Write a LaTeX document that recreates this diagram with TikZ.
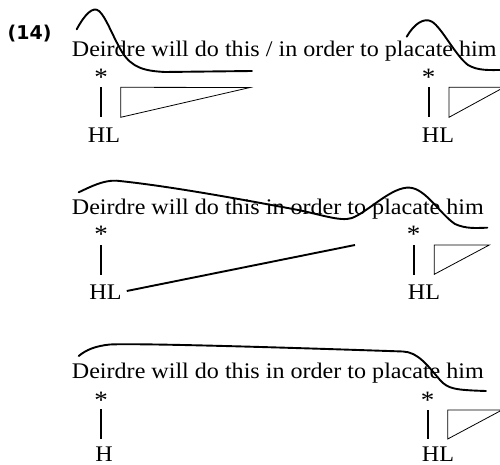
\documentclass[tikz,border=0pt]{standalone}
\usepackage{fontspec}
\setmainfont{Liberation Serif}[FakeStretch=1.08]
\newfontfamily\labfont{DejaVu Sans}
\begin{document}
\begin{tikzpicture}[x=1pt,y=-1pt,
  sent/.style={anchor=base west,inner sep=0pt,font=\fontsize{22.3}{24}\selectfont},
  tone/.style={anchor=base,inner sep=0pt,font=\fontsize{22.3}{24}\selectfont},
  ast/.style={inner sep=0pt,font=\fontsize{25}{26}\selectfont},
  contour/.style={line width=1.9pt,line cap=round},
  bar/.style={line width=2pt},
  tri/.style={line width=0.8pt,line join=miter}]
\useasboundingbox (0,0) rectangle (500,465);
\clip (0,0) rectangle (500,465);
% label
\node[anchor=base west,inner sep=0pt,font=\labfont\bfseries\fontsize{19}{21}\selectfont] (lab) at (7.5,39.5) {(14)};
% ---------- row 1
\node[sent] (t1) at (71.7,56.7) {Deirdre will do this / in order to placate him};
\node[ast] (s1a) at (101,77) {*};
\node[ast] (s1b) at (428.5,77) {*};
\node[tone] (h1a) at (104,143) {HL};
\node[tone] (h1b) at (438,143) {HL};
\draw[bar] (101,87.3) -- (101,117.3);
\draw[bar] (429,87.3) -- (429,117.3);
\draw[tri] (120.7,117.3) -- (120.7,87.3) -- (250,87.5) -- cycle;
\draw[tri] (449,117.3) -- (449,87.3) -- (504,87.3) -- cycle;
\draw[contour] (76.7,29.3) .. controls (85,14) and (93,6) .. (99,11)
  .. controls (106,17) and (112,35) .. (122,52)
  .. controls (132,68) and (145,71) .. (165,72)
  -- (252,71);
\draw[contour] (406.7,36.7) .. controls (414,24) and (424,17) .. (432,21.7)
  .. controls (442,28) and (455,55) .. (468,65)
  .. controls (478,71) and (490,70) .. (502,70);
% ---------- row 2
\node[sent] (t2) at (71.7,214) {Deirdre will do this in order to placate him};
\node[ast] (s2a) at (101,234.5) {*};
\node[ast] (s2b) at (413.5,234.5) {*};
\node[tone] (h2a) at (105.5,299.3) {HL};
\node[tone] (h2b) at (424,299.3) {HL};
\draw[bar] (101,245) -- (101,275);
\draw[bar] (414,245) -- (414,275);
\draw[tri] (434.3,274.3) -- (434.3,245) -- (489.3,245) -- cycle;
\coordinate (l2e) at (355,245);
\draw[line width=1.9pt] ([shift={(5,-1)}]h2a.east) -- (l2e);
\draw[contour] (78.7,192.3) .. controls (92,186) and (104,180) .. (116.7,180.7)
  .. controls (170,186) and (250,201) .. (293,209)
  .. controls (320,214) and (340,222) .. (352,218)
  .. controls (368,212) and (392,186) .. (410,187.7)
  .. controls (426,189) and (440,214) .. (455,224)
  .. controls (466,229) and (476,228) .. (487.3,227.7);
% ---------- row 3
\node[sent] (t3) at (71.7,378.3) {Deirdre will do this in order to placate him};
\node[ast] (s3a) at (101,400) {*};
\node[ast] (s3b) at (427.7,400) {*};
\node[tone] (h3a) at (104,461.5) {H};
\node[tone] (h3b) at (438,461.5) {HL};
\draw[bar] (101,409) -- (101,439);
\draw[bar] (427.7,410) -- (427.7,439);
\draw[tri] (447.7,439) -- (447.7,410) -- (502,410) -- cycle;
\draw[contour] (78.7,356) .. controls (86,350) and (95,346) .. (110,344.5)
  .. controls (140,343) and (300,348) .. (403,351.5)
  .. controls (418,352) and (428,366) .. (440,380)
  .. controls (448,389) and (455,390) .. (486,391);
\end{tikzpicture}
\end{document}
